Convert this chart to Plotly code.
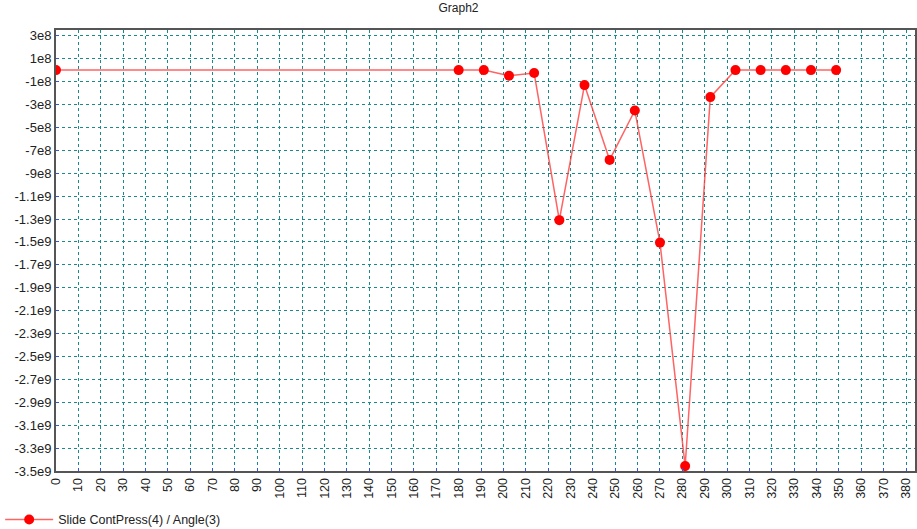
import plotly.graph_objects as go

angle = [0, 180, 191.25, 202.5, 213.75, 225, 236.25, 247.5, 258.75, 270,
         281.25, 292.5, 303.75, 315, 326.25, 337.5, 348.75]
press = [0, 0, 0, -0.5e8, -0.26e8, -1.31e9, -1.31e8, -7.84e8, -3.53e8, -1.506e9,
         -3.457e9, -2.36e8, 0, 0, 0, 0, 0]

y_tickvals = [3e8, 1e8, -1e8, -3e8, -5e8, -7e8, -9e8, -1.1e9, -1.3e9, -1.5e9,
              -1.7e9, -1.9e9, -2.1e9, -2.3e9, -2.5e9, -2.7e9, -2.9e9, -3.1e9, -3.3e9, -3.5e9]
y_ticktext = ["3e8", "1e8", "-1e8", "-3e8", "-5e8", "-7e8", "-9e8", "-1.1e9", "-1.3e9", "-1.5e9",
              "-1.7e9", "-1.9e9", "-2.1e9", "-2.3e9", "-2.5e9", "-2.7e9", "-2.9e9", "-3.1e9", "-3.3e9", "-3.5e9"]
x_tickvals = list(range(0, 390, 10))
x_ticktext = [str(v) for v in x_tickvals]

series_name = "Slide ContPress(4) / Angle(3)"
title_text = "Graph2"

fig = go.Figure()
fig.add_trace(go.Scatter(
    x=angle, y=press, mode="lines+markers", name=series_name,
    line=dict(color="rgba(255,60,60,0.8)", width=1.5),
    marker=dict(color="#ff0000", size=10, symbol="circle"),
))

font = "Liberation Sans, Arial, sans-serif"
fig.update_layout(
    width=917, height=529,
    margin=dict(l=56, r=2, t=30, b=58, autoexpand=False),
    paper_bgcolor="white", plot_bgcolor="white",
    font=dict(family=font, size=12, color="#222"),
    title=dict(text=title_text, x=0.5, xanchor="center", y=0.993, yanchor="top",
               font=dict(family=font, size=12, color="#222")),
    showlegend=True,
    legend=dict(x=-0.065, xanchor="left", y=-0.111, yanchor="middle",
                orientation="h", bgcolor="rgba(0,0,0,0)",
                font=dict(family=font, size=12.5, color="#222"), itemwidth=48),
)
fig.update_xaxes(
    range=[0, 384], tickmode="array", tickvals=x_tickvals, ticktext=x_ticktext,
    tickangle=-90, showgrid=True, gridcolor="#1a8a8a", griddash="3px,3px", gridwidth=1,
    showline=True, linecolor="#555", linewidth=2, mirror=True, automargin=False,
    ticks="inside", ticklen=3, tickcolor="#3355dd", zeroline=False,
    tickfont=dict(family=font, size=12.5, color="#222"),
)
fig.update_yaxes(
    range=[-3.5e9, 3.5e8], tickmode="array", tickvals=y_tickvals, ticktext=y_ticktext,
    showgrid=True, gridcolor="#1a8a8a", griddash="3px,3px", gridwidth=1,
    showline=True, linecolor="#555", linewidth=2, mirror=True, automargin=False,
    ticks="inside", ticklen=3, tickcolor="#3355dd", zeroline=False,
    tickfont=dict(family=font, size=13, color="#222"),
)

fig.write_html("out.html", config={"displayModeBar": False},
               post_script="document.body.style.margin='0';document.body.style.overflow='hidden';")
